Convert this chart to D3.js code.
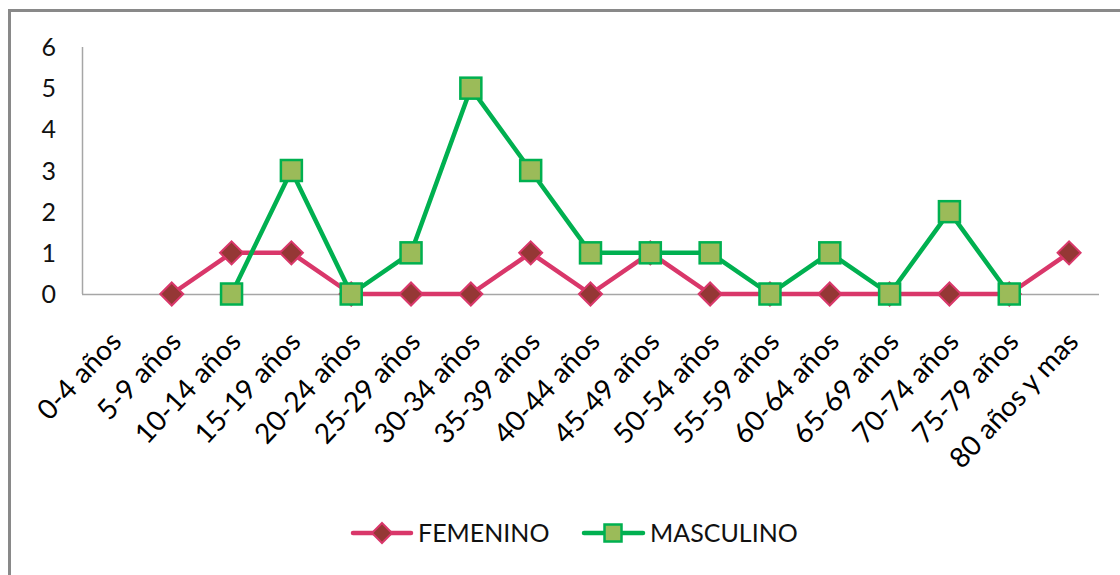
<!DOCTYPE html>
<html><head><meta charset="utf-8">
<script src="https://cdn.jsdelivr.net/npm/d3@7"></script>
<style>html,body{margin:0;padding:0;background:#fff;}svg{display:block;}</style>
</head><body>
<svg id="chart" width="1120" height="575"></svg>
<script>
const categories = ["0-4 años","5-9 años","10-14 años","15-19 años","20-24 años","25-29 años","30-34 años","35-39 años","40-44 años","45-49 años","50-54 años","55-59 años","60-64 años","65-69 años","70-74 años","75-79 años","80 años y mas"];
const femenino = [null,0,1,1,0,0,0,1,0,1,0,0,0,0,0,0,1];
const masculino = [null,null,0,3,0,1,5,3,1,1,1,0,1,0,2,0,null];
const yTicks = [0,1,2,3,4,5,6];
const seriesNames = ["FEMENINO","MASCULINO"];

const FONT = "Lato, 'Liberation Sans', sans-serif";
const svg = d3.select("#chart");

// outer border
svg.append("rect").attr("x",9.5).attr("y",10.5).attr("width",1300).attr("height",800)
  .attr("fill","none").attr("stroke","#898989").attr("stroke-width",3);

const x = d3.scalePoint().domain(categories).range([82,1099]).padding(0.5);
const y = d3.scaleLinear().domain([0,6]).range([294,47]);

// axes
svg.append("line").attr("x1",82.5).attr("x2",82.5).attr("y1",47).attr("y2",294)
  .attr("stroke","#a6a6a6").attr("stroke-width",1.5);
svg.append("line").attr("x1",82).attr("x2",1099).attr("y1",294.5).attr("y2",294.5)
  .attr("stroke","#a6a6a6").attr("stroke-width",1.5);

svg.append("g").selectAll("text").data(yTicks).join("text")
  .attr("x",56).attr("y",d=>y(d)).attr("dy","0.36em")
  .attr("text-anchor","end").attr("font-family",FONT).attr("font-size",25).attr("fill","#111")
  .text(d=>d);

svg.append("g").selectAll("text").data(categories).join("text")
  .attr("transform",d=>`translate(${x(d)+11},343) rotate(-47)`)
  .attr("text-anchor","end").attr("font-family",FONT).attr("font-size",28).attr("fill","#000")
  .text(d=>d);

const pink = "#D9376A", darkRed = "#953735", green = "#00B050", lightGreen = "#9BBB59";

function drawSeries(vals, color, markerFn){
  const line = d3.line().defined(d=>d.v!==null).x(d=>x(d.c)).y(d=>y(d.v));
  const data = categories.map((c,i)=>({c, v: vals[i]}));
  svg.append("path").datum(data).attr("d",line).attr("fill","none")
    .attr("stroke",color).attr("stroke-width",4.5).attr("stroke-linejoin","round");
  const g = svg.append("g");
  data.filter(d=>d.v!==null).forEach(d=>markerFn(g, x(d.c), y(d.v)));
}
function diamond(g, cx, cy, r=11.5){
  g.append("path").attr("d",`M${cx},${cy-r}L${cx+r},${cy}L${cx},${cy+r}L${cx-r},${cy}Z`)
    .attr("fill",darkRed).attr("stroke",pink).attr("stroke-width",2);
}
function square(g, cx, cy, s=21){
  g.append("rect").attr("x",cx-s/2).attr("y",cy-s/2).attr("width",s).attr("height",s)
    .attr("fill",lightGreen).attr("stroke",green).attr("stroke-width",2.5);
}
drawSeries(femenino, pink, diamond);
drawSeries(masculino, green, square);

// legend
const leg = svg.append("g");
leg.append("line").attr("x1",353).attr("x2",411).attr("y1",533).attr("y2",533)
  .attr("stroke",pink).attr("stroke-width",4.5).attr("stroke-linecap","round");
diamond(leg, 382, 533, 10);
leg.append("text").attr("x",418).attr("y",533).attr("dy","0.36em")
  .attr("font-family",FONT).attr("font-size",25).attr("fill","#111").text(seriesNames[0]);
leg.append("line").attr("x1",584).attr("x2",643).attr("y1",533).attr("y2",533)
  .attr("stroke",green).attr("stroke-width",4.5).attr("stroke-linecap","round");
square(leg, 613, 533, 17);
leg.append("text").attr("x",650).attr("y",533).attr("dy","0.36em")
  .attr("font-family",FONT).attr("font-size",25).attr("fill","#111").text(seriesNames[1]);
</script>
</body></html>
